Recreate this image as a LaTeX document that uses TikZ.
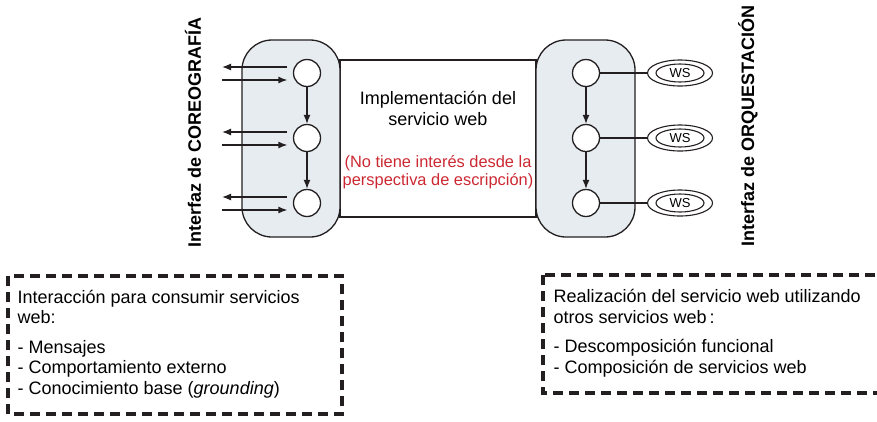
\documentclass[tikz,border=0pt]{standalone}
\usepackage{fontspec}
\setmainfont{Liberation Sans}
\usetikzlibrary{arrows.meta,shapes.geometric}
\definecolor{boxgray}{RGB}{231,236,241}
\definecolor{notered}{RGB}{204,40,50}
\definecolor{linegray}{RGB}{35,31,32}

\begin{document}
\begin{tikzpicture}[x=1pt, y=-1pt, font=\fontsize{18}{20.5}\selectfont, line width=1.3pt]
	\tikzset{
		ifbox/.style={draw=linegray, fill=boxgray, rounded corners=30pt, minimum width=98pt, minimum height=197pt},
		stnode/.style={circle, draw=linegray, fill=white, minimum size=27pt, inner sep=0pt},
		wsring/.style={ellipse, draw=linegray, fill=white, line width=1.1pt, minimum width=65pt, minimum height=26pt, inner sep=0pt},
		wsnode/.style={ellipse, draw=linegray, fill=white, line width=1.1pt, minimum width=48pt, minimum height=18pt, inner sep=0pt, font=\fontsize{13}{15}\selectfont},
		notebox/.style={draw=linegray, line width=3.2pt, dash pattern=on 10pt off 6pt},
		arr/.style={-{Latex[length=9pt,width=7pt]}, draw=linegray}
	}
	\useasboundingbox (0,0) rectangle (877,421);
	% implementation block between both interfaces
	\node[draw=linegray, line width=1.1pt, minimum width=196pt, minimum height=157pt] (impl) at (438,138.5) {};
	\node[ifbox] (coreo) at (291,138.5) {};
	\node[ifbox, minimum width=99pt] (orq) at (585.5,138.5) {};
	\node[rotate=90, font=\fontsize{18}{20}\bfseries] (coreolbl) at (193,132.5) {Interfaz de COREOGRAFÍA};
	\node[rotate=90, font=\fontsize{18}{20}\bfseries] (orqlbl) at (748,126) {Interfaz de ORQUESTACIÓN};
	\node[align=center, anchor=base] (impltxt) at (438,125) {Implementación del\\servicio web};
	\node[align=center, anchor=base, text=notered, font=\fontsize{16.4}{18}\selectfont] (impinfo) at (438,185) {(No tiene interés desde la\\perspectiva de escripción)};
	% choreography side: messages
	\foreach \i/\yy in {1/73,2/138,3/203} {
		\node[stnode] (c\i) at (307,\yy) {};
		\coordinate (msgout\i) at (222,\yy-6);
		\coordinate (msgin\i) at (222,\yy+7);
		\draw[arr] ([xshift=-5.5pt,yshift=6pt]c\i.west) -- (msgout\i);
		\draw[arr] (msgin\i) -- ([xshift=-5.5pt,yshift=-7pt]c\i.west);
	}
	\draw[arr] (c1) -- (c2);
	\draw[arr] (c2) -- (c3);
	% orchestration side: other web services
	\foreach \i/\yy in {1/73,2/138,3/203} {
		\node[stnode] (o\i) at (586,\yy) {};
		\node[wsring] (wsout\i) at (680,\yy) {};
		\node[wsnode] (ws\i) at (680,\yy) {WS};
		\draw[linegray] (o\i) -- (wsout\i);
	}
	\draw[arr] (o1) -- (o2);
	\draw[arr] (o2) -- (o3);
	% notes
	\draw[notebox] (8,276) rectangle (342,414);
	\draw[notebox] (543,275) rectangle (895,393);
	\node[anchor=base west, align=left, inner sep=0pt] (coreonote) at (17,394) {Interacción para consumir servicios\\web:\\[9pt]- Mensajes\\- Comportamiento externo\\- Conocimiento base (\textit{grounding})};
	\node[anchor=base west, align=left, inner sep=0pt] (orqnote) at (553,373) {Realización del servicio web utilizando\\otros servicios web\,:\\[9pt]- Descomposición funcional\\- Composición de servicios web};
\end{tikzpicture}
\end{document}
